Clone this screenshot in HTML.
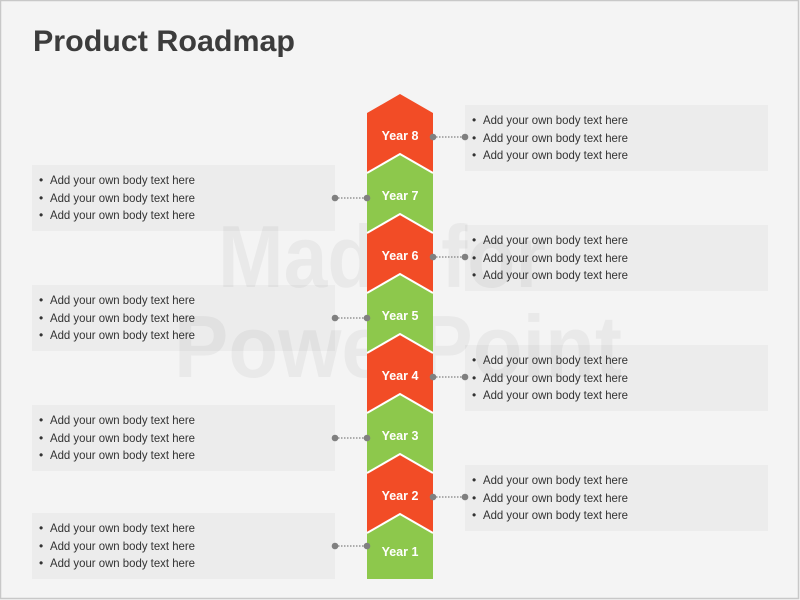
<!DOCTYPE html>
<html><head><meta charset="utf-8"><style>
html,body{margin:0;padding:0;background:#f4f4f4}
svg{display:block}
text{font-family:"Liberation Sans",sans-serif}
</style></head><body>
<svg width="800" height="600" viewBox="0 0 800 600" xmlns="http://www.w3.org/2000/svg">
<rect x="0" y="0" width="800" height="600" fill="#f4f4f4"/>
<rect x="0.5" y="0.5" width="798" height="598" fill="none" stroke="#c8c8c8" stroke-width="1.5"/>
<text x="33" y="51" font-size="30" font-weight="bold" fill="#3c3c3c" textLength="262" lengthAdjust="spacingAndGlyphs">Product Roadmap</text>

<!-- boxes -->
<g fill="#ececec">
<rect x="465" y="105" width="303" height="66"/>
<rect x="465" y="225" width="303" height="66"/>
<rect x="465" y="345" width="303" height="66"/>
<rect x="465" y="465" width="303" height="66"/>
<rect x="32" y="165" width="303" height="66"/>
<rect x="32" y="285" width="303" height="66"/>
<rect x="32" y="405" width="303" height="66"/>
<rect x="32" y="513" width="303" height="66"/>
</g>

<!-- watermark -->
<g font-weight="bold" fill="#000" fill-opacity="0.045">
<text x="218" y="287" font-size="88" textLength="328" lengthAdjust="spacingAndGlyphs">Made for</text>
<text x="174" y="377" font-size="88" textLength="448" lengthAdjust="spacingAndGlyphs">PowerPoint</text>
</g>

<!-- chevrons -->
<polygon points="367,113 400,94 433,113 433,173 400,154 367,173" fill="#f24c26"/>
<polygon points="367,173 400,154 433,173 433,233 400,214 367,233" fill="#8dc84c"/>
<polygon points="367,233 400,214 433,233 433,293 400,274 367,293" fill="#f24c26"/>
<polygon points="367,293 400,274 433,293 433,353 400,334 367,353" fill="#8dc84c"/>
<polygon points="367,353 400,334 433,353 433,413 400,394 367,413" fill="#f24c26"/>
<polygon points="367,413 400,394 433,413 433,473 400,454 367,473" fill="#8dc84c"/>
<polygon points="367,473 400,454 433,473 433,533 400,514 367,533" fill="#f24c26"/>
<polygon points="367,533 400,514 433,533 433,579 367,579" fill="#8dc84c"/>
<g fill="none" stroke="#fff" stroke-width="2">
<polyline points="367,173 400,154 433,173"/>
<polyline points="367,233 400,214 433,233"/>
<polyline points="367,293 400,274 433,293"/>
<polyline points="367,353 400,334 433,353"/>
<polyline points="367,413 400,394 433,413"/>
<polyline points="367,473 400,454 433,473"/>
<polyline points="367,533 400,514 433,533"/>
</g>
<g font-size="12.5" font-weight="bold" fill="#fff" text-anchor="middle">
<text x="400" y="140">Year 8</text>
<text x="400" y="200">Year 7</text>
<text x="400" y="260">Year 6</text>
<text x="400" y="320">Year 5</text>
<text x="400" y="380">Year 4</text>
<text x="400" y="440">Year 3</text>
<text x="400" y="500">Year 2</text>
<text x="400" y="556">Year 1</text>
</g>

<!-- connectors -->
<g stroke="#808080" stroke-width="1.3" stroke-dasharray="1.5,1.5">
<line x1="433" y1="137" x2="465" y2="137"/>
<line x1="433" y1="257" x2="465" y2="257"/>
<line x1="433" y1="377" x2="465" y2="377"/>
<line x1="433" y1="497" x2="465" y2="497"/>
<line x1="335" y1="198" x2="367" y2="198"/>
<line x1="335" y1="318" x2="367" y2="318"/>
<line x1="335" y1="438" x2="367" y2="438"/>
<line x1="335" y1="546" x2="367" y2="546"/>
</g>
<g fill="#808080">
<circle cx="433" cy="137" r="3.3"/><circle cx="465" cy="137" r="3.3"/>
<circle cx="433" cy="257" r="3.3"/><circle cx="465" cy="257" r="3.3"/>
<circle cx="433" cy="377" r="3.3"/><circle cx="465" cy="377" r="3.3"/>
<circle cx="433" cy="497" r="3.3"/><circle cx="465" cy="497" r="3.3"/>
<circle cx="335" cy="198" r="3.3"/><circle cx="367" cy="198" r="3.3"/>
<circle cx="335" cy="318" r="3.3"/><circle cx="367" cy="318" r="3.3"/>
<circle cx="335" cy="438" r="3.3"/><circle cx="367" cy="438" r="3.3"/>
<circle cx="335" cy="546" r="3.3"/><circle cx="367" cy="546" r="3.3"/>
</g>

<!-- bullet text -->
<g font-size="12" fill="#333">
<g id="r1">
<text x="472" y="124">•</text><text x="483" y="124" textLength="145" lengthAdjust="spacingAndGlyphs">Add your own body text here</text>
<text x="472" y="142">•</text><text x="483" y="142" textLength="145" lengthAdjust="spacingAndGlyphs">Add your own body text here</text>
<text x="472" y="159">•</text><text x="483" y="159" textLength="145" lengthAdjust="spacingAndGlyphs">Add your own body text here</text>
</g>
<g transform="translate(0,120)">
<text x="472" y="124">•</text><text x="483" y="124" textLength="145" lengthAdjust="spacingAndGlyphs">Add your own body text here</text>
<text x="472" y="142">•</text><text x="483" y="142" textLength="145" lengthAdjust="spacingAndGlyphs">Add your own body text here</text>
<text x="472" y="159">•</text><text x="483" y="159" textLength="145" lengthAdjust="spacingAndGlyphs">Add your own body text here</text>
</g>
<g transform="translate(0,240)">
<text x="472" y="124">•</text><text x="483" y="124" textLength="145" lengthAdjust="spacingAndGlyphs">Add your own body text here</text>
<text x="472" y="142">•</text><text x="483" y="142" textLength="145" lengthAdjust="spacingAndGlyphs">Add your own body text here</text>
<text x="472" y="159">•</text><text x="483" y="159" textLength="145" lengthAdjust="spacingAndGlyphs">Add your own body text here</text>
</g>
<g transform="translate(0,360)">
<text x="472" y="124">•</text><text x="483" y="124" textLength="145" lengthAdjust="spacingAndGlyphs">Add your own body text here</text>
<text x="472" y="142">•</text><text x="483" y="142" textLength="145" lengthAdjust="spacingAndGlyphs">Add your own body text here</text>
<text x="472" y="159">•</text><text x="483" y="159" textLength="145" lengthAdjust="spacingAndGlyphs">Add your own body text here</text>
</g>
<g transform="translate(-433,60)">
<text x="472" y="124">•</text><text x="483" y="124" textLength="145" lengthAdjust="spacingAndGlyphs">Add your own body text here</text>
<text x="472" y="142">•</text><text x="483" y="142" textLength="145" lengthAdjust="spacingAndGlyphs">Add your own body text here</text>
<text x="472" y="159">•</text><text x="483" y="159" textLength="145" lengthAdjust="spacingAndGlyphs">Add your own body text here</text>
</g>
<g transform="translate(-433,180)">
<text x="472" y="124">•</text><text x="483" y="124" textLength="145" lengthAdjust="spacingAndGlyphs">Add your own body text here</text>
<text x="472" y="142">•</text><text x="483" y="142" textLength="145" lengthAdjust="spacingAndGlyphs">Add your own body text here</text>
<text x="472" y="159">•</text><text x="483" y="159" textLength="145" lengthAdjust="spacingAndGlyphs">Add your own body text here</text>
</g>
<g transform="translate(-433,300)">
<text x="472" y="124">•</text><text x="483" y="124" textLength="145" lengthAdjust="spacingAndGlyphs">Add your own body text here</text>
<text x="472" y="142">•</text><text x="483" y="142" textLength="145" lengthAdjust="spacingAndGlyphs">Add your own body text here</text>
<text x="472" y="159">•</text><text x="483" y="159" textLength="145" lengthAdjust="spacingAndGlyphs">Add your own body text here</text>
</g>
<g transform="translate(-433,408)">
<text x="472" y="124">•</text><text x="483" y="124" textLength="145" lengthAdjust="spacingAndGlyphs">Add your own body text here</text>
<text x="472" y="142">•</text><text x="483" y="142" textLength="145" lengthAdjust="spacingAndGlyphs">Add your own body text here</text>
<text x="472" y="159">•</text><text x="483" y="159" textLength="145" lengthAdjust="spacingAndGlyphs">Add your own body text here</text>
</g>
</g>
</svg>
</body></html>
